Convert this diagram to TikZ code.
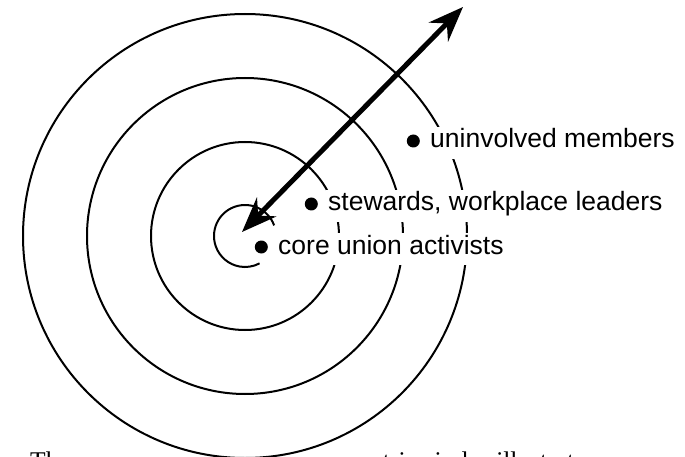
\documentclass[tikz,border=0pt]{standalone}
\usepackage{fontspec}
\setmainfont{Liberation Sans}
\newfontfamily\pagefont{Liberation Serif}
\usetikzlibrary{arrows.meta,positioning}

\begin{document}
\begin{tikzpicture}[x=1pt,y=-1pt]
        \tikzstyle{ring}=[line width=2pt]
        \tikzstyle{group}=[fill=white, inner sep=2pt, anchor=base west, text height=19pt, text depth=9pt, font=\fontsize{26.5}{30}\selectfont]
        \tikzstyle{dotmark}=[circle, fill, inner sep=0pt, minimum size=13pt, yshift=2pt]
        \tikzstyle{reach}=[line width=5pt, >={Stealth[length=35pt, width=27pt, inset=12pt]}, <->]
        \tikzstyle{pagetext}=[inner sep=0pt, anchor=base west, font=\pagefont\fontsize{25.5}{30}\selectfont]

        \useasboundingbox (0,0) rectangle (685,457);

        % rings round the centre
        \coordinate (c) at (245,236);
        \foreach \r in {94,158,222} {
            \draw[ring] (c) circle[radius=\r pt];
        }
        \draw[ring] (c) ++(20:31pt) arc[start angle=20, end angle=298, radius=31pt];

        % labels
        \node[group] (core)     at (276,254) {core union activists};
        \node[group] (stewards) at (326,211) {stewards, workplace leaders};
        \node[group] (members)  at (428,148) {uninvolved members};

        \node[dotmark, left=8pt of core.west]     (coredot)     {};
        \node[dotmark, left=8pt of stewards.west] (stewardsdot) {};
        \node[dotmark, left=8pt of members.west]  (membersdot)  {};

        % arrow in and out
        \coordinate (inner) at (242,232);
        \coordinate (outer) at (463,7);
        \draw[reach] (inner) -- (outer);

        % page text below
        \node[pagetext] (pagestart) at (30,469)  {The};
        \node[pagetext] (pagerest)  at (370,469) {ntric circles illustrat};
\end{tikzpicture}
\end{document}
